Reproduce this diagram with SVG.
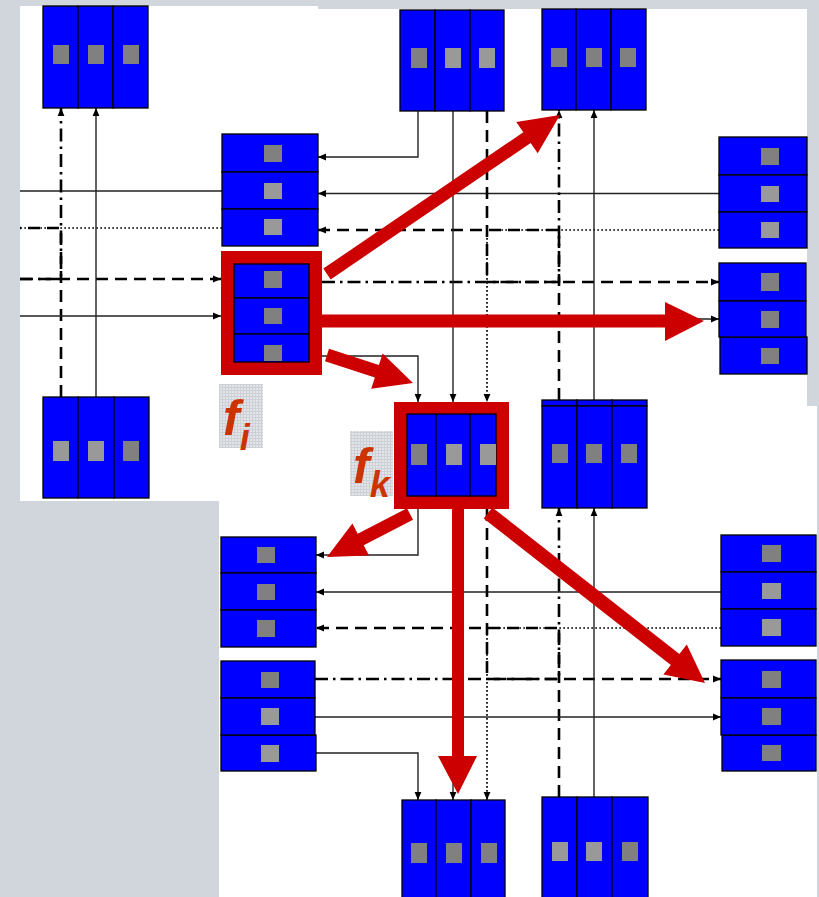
<svg xmlns="http://www.w3.org/2000/svg" width="819" height="897" viewBox="0 0 819 897">
  <defs>
    <style>
      .blk rect { fill: #0000ff; stroke: #000; stroke-width: 1.3; }
      .blk rect.sd { fill: #808080; stroke: none; }
      .blk rect.sl { fill: #999999; stroke: none; }
      .frame { fill: #cc0000; }
      .ln { fill: none; stroke: #222; stroke-width: 1.4; }
      .dsh { fill: none; stroke: #000; stroke-width: 2.6; stroke-dasharray: 12 7; }
      .dd { fill: none; stroke: #000; stroke-width: 2.6; stroke-dasharray: 13 5 2.5 5; }
      .dot { fill: none; stroke: #000; stroke-width: 1.7; stroke-dasharray: 1.7 2.3; }
      .red { fill: #cc0000; }
      .lbl { font-family: "Liberation Sans", Arial, sans-serif; font-weight: bold; font-style: italic; fill: #cc3300; }
    </style>
    <marker id="ah" viewBox="0 0 8 8" refX="8" refY="4" markerWidth="8" markerHeight="8" markerUnits="userSpaceOnUse" orient="auto">
      <path d="M0,0.6 L8,4 L0,7.4 Z" fill="#000"/>
    </marker>
    <pattern id="tex" width="3" height="3" patternUnits="userSpaceOnUse">
      <rect width="3" height="3" fill="#e3e4e8"/>
      <path d="M0,0.5 H3 M0.5,0 V3" stroke="#cdd0d6" stroke-width="1"/>
    </pattern>
  </defs>

  <!-- backdrop and white sheets -->
  <rect width="819" height="897" fill="#d1d5dc"/>
  <rect x="20" y="6" width="298" height="495" fill="#fff"/>
  <rect x="318" y="9" width="489" height="398" fill="#fff"/>
  <rect x="219" y="406" width="598" height="491" fill="#fff"/>

  <!-- links -->
  <g id="connectors">
    <!-- left sheet -->
    <path class="ln" d="M222,191 H20"/>
    <path class="dot" d="M222,228 H20"/>
    <path class="dsh" d="M61,397 V228 H20"/>
    <path class="dd" d="M20,279 H61 V108" marker-end="url(#ah)"/>
    <path class="dsh" d="M20,279 H221" marker-end="url(#ah)"/>
    <path class="ln" d="M96,397 V108" marker-end="url(#ah)"/>
    <path class="ln" d="M20,316 H221" marker-end="url(#ah)"/>

    <!-- upper sheet -->
    <path class="ln" d="M418,111 V157 H318" marker-end="url(#ah)"/>
    <path class="ln" d="M719,193.5 H318" marker-end="url(#ah)"/>
    <path class="dsh" d="M559,400 V230 H318" marker-end="url(#ah)"/>
    <path class="dot" d="M719,230 H487 V402" marker-end="url(#ah)"/>
    <path class="dsh" d="M487,111 V282 H719" marker-end="url(#ah)"/>
    <path class="dd" d="M322,282 H559 V110" marker-end="url(#ah)"/>
    <path class="ln" d="M453,111 V402" marker-end="url(#ah)"/>
    <path class="ln" d="M322,356 H418 V402" marker-end="url(#ah)"/>
    <path class="ln" d="M322,319 H719" marker-end="url(#ah)"/>
    <path class="ln" d="M594,400 V110" marker-end="url(#ah)"/>

    <!-- lower sheet -->
    <path class="ln" d="M418,509 V555 H316" marker-end="url(#ah)"/>
    <path class="ln" d="M721,592 H316" marker-end="url(#ah)"/>
    <path class="dsh" d="M559,797 V628 H316" marker-end="url(#ah)"/>
    <path class="dot" d="M721,628 H487 V800" marker-end="url(#ah)"/>
    <path class="dsh" d="M487,509 V679 H721" marker-end="url(#ah)"/>
    <path class="dd" d="M315,679 H559 V508" marker-end="url(#ah)"/>
    <path class="ln" d="M453,509 V800" marker-end="url(#ah)"/>
    <path class="ln" d="M316,753 H418 V800" marker-end="url(#ah)"/>
    <path class="ln" d="M315,717 H721" marker-end="url(#ah)"/>
    <path class="ln" d="M594,797 V508" marker-end="url(#ah)"/>
  </g>

  <!-- column-style blocks -->
  <g id="n1" class="blk">
    <rect x="43" y="6" width="35" height="102"/><rect x="78" y="6" width="35" height="102"/><rect x="113" y="6" width="35" height="102"/>
    <rect class="sd" x="53" y="45" width="16" height="19"/><rect class="sd" x="88" y="45" width="16" height="19"/><rect class="sd" x="123" y="45" width="16" height="19"/>
  </g>
  <g id="n2" class="blk">
    <rect x="400" y="10" width="35" height="101"/><rect x="435" y="10" width="35" height="101"/><rect x="470" y="10" width="34" height="101"/>
    <rect class="sd" x="411" y="48" width="16" height="20"/><rect class="sl" x="445" y="48" width="16" height="20"/><rect class="sl" x="479" y="48" width="16" height="20"/>
  </g>
  <g id="n3" class="blk">
    <rect x="542" y="9" width="34" height="101"/><rect x="576" y="9" width="35" height="101"/><rect x="611" y="9" width="35" height="101"/>
    <rect class="sd" x="551" y="48" width="16" height="19"/><rect class="sd" x="586" y="48" width="16" height="19"/><rect class="sd" x="620" y="48" width="16" height="19"/>
  </g>
  <g id="n4" class="blk">
    <rect x="43" y="397" width="35" height="101"/><rect x="78" y="397" width="36" height="101"/><rect x="114" y="397" width="35" height="101"/>
    <rect class="sl" x="53" y="441" width="16" height="20"/><rect class="sl" x="88" y="441" width="16" height="20"/><rect class="sd" x="123" y="441" width="16" height="20"/>
  </g>
  <g id="fk" class="blk">
    <path class="frame" d="M394,402 H509 V509 H394 Z"/>
    <rect x="407" y="414" width="29" height="82"/><rect x="436" y="414" width="34" height="82"/><rect x="470" y="414" width="26" height="82"/>
    <rect class="sd" x="411" y="444" width="16" height="21"/><rect class="sl" x="446" y="444" width="16" height="21"/><rect class="sl" x="480" y="444" width="16" height="21"/>
  </g>
  <g id="n6" class="blk">
    <rect x="542" y="400" width="35" height="6"/><rect x="577" y="400" width="35" height="6"/><rect x="612" y="400" width="35" height="6"/>
    <rect x="542" y="406" width="35" height="102"/><rect x="577" y="406" width="35" height="102"/><rect x="612" y="406" width="35" height="102"/>
    <rect class="sd" x="552" y="444" width="16" height="19"/><rect class="sd" x="586" y="444" width="16" height="19"/><rect class="sd" x="621" y="444" width="16" height="19"/>
  </g>
  <g id="n7" class="blk">
    <rect x="402" y="800" width="34" height="105"/><rect x="436" y="800" width="35" height="105"/><rect x="471" y="800" width="34" height="105"/>
    <rect class="sd" x="411" y="843" width="16" height="20"/><rect class="sd" x="446" y="843" width="16" height="20"/><rect class="sd" x="481" y="843" width="16" height="20"/>
  </g>
  <g id="n8" class="blk">
    <rect x="542" y="797" width="35" height="108"/><rect x="577" y="797" width="35" height="108"/><rect x="612" y="797" width="36" height="108"/>
    <rect class="sl" x="552" y="842" width="16" height="19"/><rect class="sl" x="586" y="842" width="16" height="19"/><rect class="sd" x="622" y="842" width="16" height="19"/>
  </g>

  <!-- row-style blocks -->
  <g id="h1" class="blk">
    <rect x="222" y="134" width="96" height="38"/><rect x="222" y="172" width="96" height="37"/><rect x="222" y="209" width="96" height="37"/>
    <rect class="sd" x="264" y="145" width="18" height="17"/><rect class="sl" x="264" y="183" width="18" height="16"/><rect class="sl" x="264" y="219" width="18" height="16"/>
  </g>
  <g id="fi" class="blk">
    <path class="frame" d="M221,251 H322 V375 H221 Z"/>
    <rect x="234" y="264" width="75" height="34"/><rect x="234" y="298" width="75" height="36"/><rect x="234" y="334" width="75" height="28"/>
    <rect class="sd" x="264" y="271" width="18" height="17"/><rect class="sd" x="264" y="308" width="18" height="16"/><rect class="sd" x="264" y="345" width="18" height="16"/>
  </g>
  <g id="h3" class="blk">
    <rect x="719" y="137" width="88" height="38"/><rect x="719" y="175" width="88" height="37"/><rect x="719" y="212" width="88" height="36"/>
    <rect class="sd" x="761" y="148" width="18" height="17"/><rect class="sl" x="761" y="186" width="18" height="16"/><rect class="sl" x="761" y="222" width="18" height="16"/>
  </g>
  <g id="h4" class="blk">
    <rect x="720" y="337" width="87" height="37"/>
    <rect x="719" y="263" width="87" height="38"/><rect x="719" y="301" width="87" height="36"/>
    <rect class="sd" x="761" y="273" width="18" height="18"/><rect class="sd" x="761" y="311" width="18" height="17"/><rect class="sd" x="761" y="348" width="18" height="16"/>
  </g>
  <g id="h5" class="blk">
    <rect x="221" y="537" width="95" height="36"/><rect x="221" y="573" width="95" height="37"/><rect x="221" y="610" width="95" height="37"/>
    <rect class="sd" x="257" y="547" width="18" height="16"/><rect class="sd" x="257" y="584" width="18" height="16"/><rect class="sd" x="257" y="620" width="18" height="17"/>
  </g>
  <g id="h6" class="blk">
    <rect x="221" y="735" width="95" height="36"/>
    <rect x="221" y="661" width="94" height="37"/><rect x="221" y="698" width="94" height="37"/>
    <rect class="sd" x="261" y="672" width="18" height="16"/><rect class="sl" x="261" y="708" width="18" height="17"/><rect class="sl" x="261" y="745" width="18" height="17"/>
  </g>
  <g id="h7" class="blk">
    <rect x="721" y="535" width="95" height="37"/><rect x="721" y="572" width="95" height="37"/><rect x="721" y="609" width="95" height="37"/>
    <rect class="sd" x="762" y="545" width="19" height="17"/><rect class="sl" x="762" y="583" width="19" height="16"/><rect class="sl" x="762" y="619" width="19" height="17"/>
  </g>
  <g id="h8" class="blk">
    <rect x="722" y="735" width="94" height="36"/>
    <rect x="721" y="660" width="95" height="38"/><rect x="721" y="698" width="95" height="37"/>
    <rect class="sd" x="762" y="671" width="19" height="17"/><rect class="sd" x="762" y="708" width="19" height="17"/><rect class="sd" x="762" y="745" width="19" height="16"/>
  </g>

  <!-- highlighted moves -->
  <g id="moves">
    <polygon class="red" points="330.7,279.4 530.7,143 537.7,153.3 560,115 516.3,121.9 523.3,132.2 323.3,268.6"/>
    <polygon class="red" points="322,314.5 665,314.5 665,302 704,321 665,341 665,327.5 322,327.5"/>
    <polygon class="red" points="325,361.2 374.9,377.4 371.2,388.8 413,383 382.6,353.6 378.9,365 329,348.8"/>
    <polygon class="red" points="407,508.2 357.7,533.7 352.4,523.5 327,557 369,555.5 363.7,545.3 413,519.8"/>
    <polygon class="red" points="452,509 452,756 438,756 458,794 477,756 464,756 464,509"/>
    <polygon class="red" points="483.7,518.5 670.8,665.1 663.4,674.6 705,683 686.8,644.6 679.4,654.1 492.3,507.5"/>
  </g>

  <!-- labels -->
  <g id="label-fi">
    <rect x="219" y="384" width="44" height="64" fill="url(#tex)"/>
    <text class="lbl" x="223" y="435" font-size="50">f<tspan dy="15" font-size="36">i</tspan></text>
  </g>
  <g id="label-fk">
    <rect x="350" y="431" width="43" height="65" fill="url(#tex)"/>
    <text class="lbl" x="353" y="483" font-size="50">f<tspan dy="14" font-size="36">k</tspan></text>
  </g>
</svg>
